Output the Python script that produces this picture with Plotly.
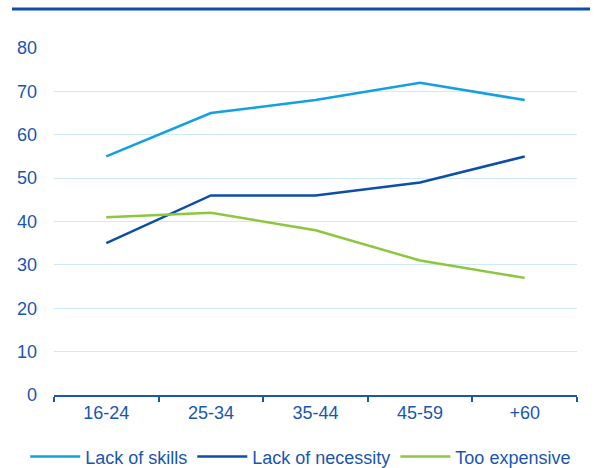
import plotly.graph_objects as go

categories = ["16-24", "25-34", "35-44", "45-59", "+60"]
lack_of_skills = [55, 65, 68, 72, 68]
lack_of_necessity = [35, 46, 46, 49, 55]
too_expensive = [41, 42, 38, 31, 27]
y_ticks = [0, 10, 20, 30, 40, 50, 60, 70, 80]

text_color = "#1a56b0"
fig = go.Figure()
series = [
    ("Lack of skills", lack_of_skills, "#12a0e3"),
    ("Lack of necessity", lack_of_necessity, "#0d4ea6"),
    ("Too expensive", too_expensive, "#8dc63f"),
]
for name, vals, col in series:
    fig.add_trace(go.Scatter(x=categories, y=vals, name=name, mode="lines",
                             line=dict(color=col, width=2.5)))

fig.update_layout(
    width=598, height=468,
    margin=dict(l=54, r=21, t=48, b=73, autoexpand=False),
    paper_bgcolor="white", plot_bgcolor="white",
    font=dict(family="Liberation Sans, Arial, sans-serif", size=18, color=text_color),
    showlegend=True,
    legend=dict(orientation="h", x=-0.055, xanchor="left", y=-0.125, yanchor="top",
                font=dict(size=18, color=text_color), itemwidth=50,
                traceorder="normal", tracegroupgap=0),
    xaxis=dict(type="category", range=[-0.5, 4.5], showgrid=False,
               showline=True, linecolor=text_color, linewidth=2,
               ticks="outside", tickson="boundaries", ticklen=5, tickwidth=2,
               tickcolor=text_color, tickfont=dict(size=18, color=text_color)),
    yaxis=dict(range=[0, 80], tickvals=y_ticks, showgrid=True, gridcolor="#cdeaf8",
               gridwidth=1, zeroline=False, showline=False, ticks="",
               ticklabelstandoff=16,
               tickfont=dict(size=18, color=text_color)),
)
fig.add_shape(type="line", xref="paper", yref="paper",
              x0=-42/523, x1=536/523, y0=1 + 39/347, y1=1 + 39/347,
              line=dict(color="#0d4ea6", width=3))
fig.write_html("out.html")
